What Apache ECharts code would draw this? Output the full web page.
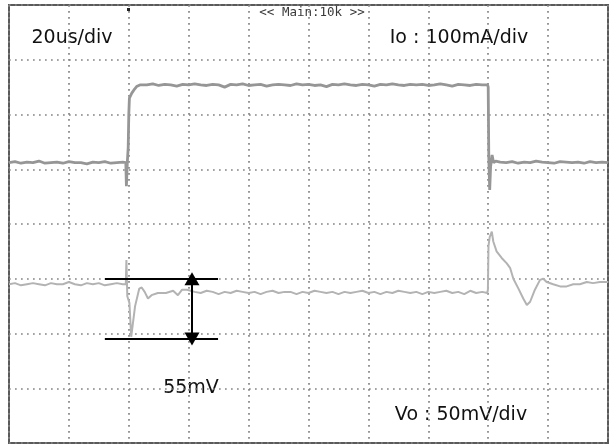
<!DOCTYPE html>
<html>
<head>
<meta charset="utf-8">
<script src="https://cdn.jsdelivr.net/npm/echarts@6/dist/echarts.min.js"></script>
<style>
  html, body { margin: 0; padding: 0; background: #fff; }
  #chart { width: 611px; height: 444px; }
</style>
</head>
<body>
<div id="chart"></div>
<script>
// Load-step transient: Io (100mA/div) and Vo (50mV/div), 20us/div, 10 x 8 divisions.

// Io trace: time (us) and current (mA)
const ioTime = [
  0, 2, 4, 6, 8, 10, 12, 14, 16, 18, 20, 22, 24, 26, 28, 30, 32, 34, 36, 38,
  39.0, 39.2, 39.5, 39.8, 40.0, 40.2, 41.0, 42.0, 42.6, 43.7,
  46, 48, 50, 52, 54, 56, 58, 60, 62, 64, 66, 68, 70, 72, 74, 76, 78, 80, 82, 84,
  86, 88, 90, 92, 94, 96, 98, 100, 102, 104, 106, 108, 110, 112, 114, 116, 118, 120,
  122, 124, 126, 128, 130, 132, 134, 136, 138, 140, 142, 144, 146, 148, 150, 152, 154, 156, 158,
  159.8, 160.0, 160.2, 160.5, 160.8, 161.3, 161.8, 162.5,
  164, 166, 168, 170, 172, 174, 176, 178, 180, 182, 184, 186, 188, 190, 192, 194, 196, 198, 200
];
const ioValue = [
  12, 14, 11, 13, 12, 15, 11, 12, 13, 11, 14, 12, 12, 10, 13, 12, 14, 11, 12, 13,
  12, -31, 12, 40, 100, 130, 139, 147, 151, 154,
  154, 156, 153, 155, 154, 152, 155, 154, 156, 154, 153, 155, 154, 150, 155, 154, 156, 153, 154, 155,
  152, 154, 155, 154, 153, 156, 154, 155, 153, 154, 151, 155, 154, 156, 154, 153, 155, 154,
  152, 155, 154, 156, 154, 153, 155, 154, 155, 153, 154, 156, 154, 152, 155, 154, 153, 155, 154,
  154, 150, 22, -38, 5, 26, 12, 15,
  13, 12, 14, 11, 13, 12, 15, 13, 12, 11, 14, 13, 12, 13, 11, 14, 12, 13, 12
];

// Vo trace: time (us) and output deviation (mV)
const voTime = [
  0, 2, 4, 6, 8, 10, 12, 14, 16, 18, 20, 22, 24, 26, 28, 30, 32, 34, 36, 38,
  39.0, 39.2, 39.5, 40.2, 40.8, 41.1, 42.1, 43.5, 44.3, 45.3, 46.4, 47.6, 49.7, 52.4,
  54.8, 56.4, 57.8, 59.4,
  62, 64, 66, 68, 70, 72, 74, 76, 78, 80, 82, 84, 86, 88, 90, 92, 94, 96, 98, 100,
  102, 104, 106, 108, 110, 112, 114, 116, 118, 120, 122, 124, 126, 128, 130, 132, 134,
  136, 138, 140, 142, 144, 146, 148, 150, 152, 154, 156, 158,
  159.7, 159.9, 160.1, 160.5, 161.2, 161.7, 162.8, 164.5, 166.2, 167.3, 168.4, 170.1,
  171.7, 172.9, 174.0, 175.6, 177.3, 178.4, 179.5, 181.7, 184.0, 186.2, 188.4, 190.6,
  192.9, 195, 197.3, 200
];
const voValue = [
  -5, -4, -6, -5, -4, -5, -6, -4, -5, -5, -3, -5, -6, -4, -5, -4, -6, -5, -4, -5,
  -5, 17, -16, -22, -53, -53, -25, -9, -8, -12, -18, -15, -13, -13,
  -11, -15, -10, -10,
  -12, -13, -11, -12, -14, -12, -13, -11, -12, -13, -12, -14, -12, -11, -13, -12, -12, -14, -12, -13,
  -11, -12, -13, -12, -14, -12, -13, -12, -11, -13, -12, -14, -12, -13, -11, -12, -13,
  -12, -14, -12, -13, -12, -11, -13, -12, -14, -11, -13, -12,
  -13, -10, 30, 38, 43, 34, 25, 19, 14, 10, 0, -9,
  -18, -24, -21, -10, -1, 0, -3, -5, -7, -7, -5, -5,
  -3, -4, -3, -3
];

// Peak-to-peak marker for the undershoot (mV) and its time span (us)
const markerTop = 0;
const markerBottom = -55;
const markerSpan = [32, 69.8];
const markerArrowTime = 61.1;

// Axis scales
const timeDivs = [0, 200, 20];     // min, max, us per division
const ioScale = [-500, 300];       // mA
const voScale = [-150, 250];       // mV

const zip = (xs, ys) => xs.map((x, i) => [x, ys[i]]);

const chart = echarts.init(document.getElementById('chart'), null, { renderer: 'canvas' });

const dotted = { color: '#858585', width: 1.7, type: [1.7, 4.3] };
const textFont = '19px "DejaVu Sans"';
const solidBlack = { color: '#000', width: 2, type: 'solid' };

chart.setOption({
  animation: false,
  backgroundColor: '#ffffff',
  grid: {
    left: 9, right: 3, top: 5, bottom: 1,
    show: true, borderColor: '#5a5a5a', borderWidth: 2, backgroundColor: '#fff'
  },
  xAxis: {
    type: 'value', min: timeDivs[0], max: timeDivs[1], interval: timeDivs[2],
    axisLine: { show: false }, axisTick: { show: false }, axisLabel: { show: false },
    splitLine: { show: true, lineStyle: dotted }
  },
  yAxis: [
    {
      type: 'value', min: 0, max: 8, interval: 1,
      axisLine: { show: false }, axisTick: { show: false }, axisLabel: { show: false },
      splitLine: { show: true, lineStyle: dotted }
    },
    { type: 'value', min: ioScale[0], max: ioScale[1], show: false, splitLine: { show: false } },
    { type: 'value', min: voScale[0], max: voScale[1], show: false, splitLine: { show: false } }
  ],
  series: [
    {
      name: 'Io', type: 'line', yAxisIndex: 1, data: zip(ioTime, ioValue),
      showSymbol: false, symbol: 'none',
      lineStyle: { color: '#969696', width: 2.8 }
    },
    {
      name: 'Vo', type: 'line', yAxisIndex: 2, data: zip(voTime, voValue),
      showSymbol: false, symbol: 'none',
      lineStyle: { color: '#b3b3b3', width: 2 },
      markLine: {
        silent: true, animation: false,
        label: { show: false },
        data: [
          [
            { coord: [markerSpan[0], markerTop], symbol: 'none' },
            { coord: [markerSpan[1], markerTop], symbol: 'none', lineStyle: solidBlack }
          ],
          [
            { coord: [markerSpan[0], markerBottom], symbol: 'none' },
            { coord: [markerSpan[1], markerBottom], symbol: 'none', lineStyle: solidBlack }
          ],
          [
            { coord: [markerArrowTime, markerTop], symbol: 'triangle', symbolSize: [15, 13] },
            { coord: [markerArrowTime, markerBottom], symbol: 'triangle', symbolSize: [15, 13], lineStyle: solidBlack }
          ]
        ],
        lineStyle: solidBlack,
        itemStyle: { color: '#000' }
      }
    }
  ],
  graphic: [
    { type: 'text', x: 72, y: 38, style: { text: '20us/div', font: textFont, fill: '#111', align: 'center', verticalAlign: 'middle' } },
    { type: 'text', x: 459, y: 38, style: { text: 'Io : 100mA/div', font: textFont, fill: '#111', align: 'center', verticalAlign: 'middle' } },
    { type: 'text', x: 191, y: 388, style: { text: '55mV', font: textFont, fill: '#111', align: 'center', verticalAlign: 'middle' } },
    { type: 'text', x: 461, y: 415, style: { text: 'Vo : 50mV/div', font: textFont, fill: '#111', align: 'center', verticalAlign: 'middle' } },
    { type: 'text', x: 312, y: 13, style: { text: '<< Main:10k >>', font: '12.5px "DejaVu Sans Mono"', fill: '#3a3a3a', align: 'center', verticalAlign: 'middle' } },
    { type: 'rect', shape: { x: 127, y: 8, width: 3, height: 3 }, style: { fill: '#222' } }
  ]
});
</script>
</body>
</html>
